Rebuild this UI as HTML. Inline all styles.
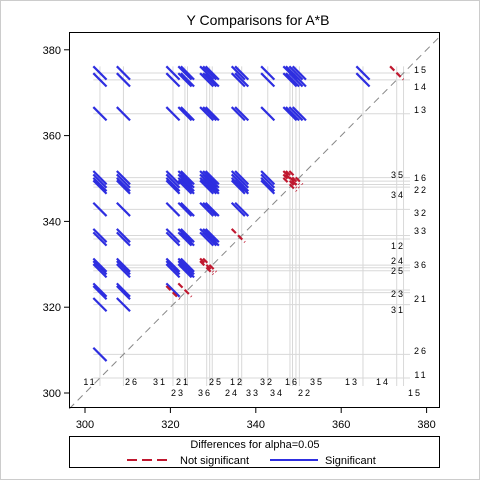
<!DOCTYPE html>
<html><head><meta charset="utf-8"><style>
body{margin:0;background:#fff}
svg{display:block;font-family:"Liberation Sans",sans-serif}
</style></head><body>
<svg id="chart" width="480" height="480" viewBox="0 0 480 480">
<rect x="0.5" y="0.5" width="479" height="479" fill="#fff" stroke="#ccc"/>
<text x="258" y="25" font-size="14" text-anchor="middle">Y Comparisons for A*B</text>
<g id="grid"></g>
<g id="segs"></g>
<g id="labels"></g>
<rect x="69.5" y="32.5" width="370" height="375" fill="none" stroke="#000"/>
<g id="axes"></g>
<g>
<rect x="69.5" y="436.5" width="370" height="31" fill="none" stroke="#000"/>
<text x="255" y="448" font-size="11" text-anchor="middle">Differences for alpha=0.05</text>
<line x1="127" y1="460" x2="170" y2="460" stroke="#c0182f" stroke-width="2" stroke-dasharray="10,5"/>
<text x="180" y="464" font-size="11">Not significant</text>
<line x1="270" y1="460" x2="318" y2="460" stroke="#2e2ee0" stroke-width="2"/>
<text x="325" y="464" font-size="11">Significant</text>
</g>
</svg>
<script>
const levels = ["11","26","31","23","21","36","25","24","12","33","32","34","22","16","35","13","14","15"];
const means = [303.5,309.0,320.6,324.0,323.4,328.5,329.2,329.8,335.9,336.7,342.8,348.0,348.6,349.4,350.2,365.1,373.0,374.6];
const halfWidth = [1.55];
const xTicks = [300,320,340,360,380];
const yTicks = [300,320,340,360,380];
const NS="http://www.w3.org/2000/svg";
const X = v => 85 + (v-300)*4.27;
const Y = v => 393 - (v-300)*4.29;
function mk(tag, attrs, parent){const e=document.createElementNS(NS,tag);for(const k in attrs)e.setAttribute(k,attrs[k]);parent.appendChild(e);return e;}
const grid=document.getElementById('grid'), segs=document.getElementById('segs'), labels=document.getElementById('labels'), axes=document.getElementById('axes');
const d=halfWidth[0];
const mn=Math.min(...means), mx=Math.max(...means);
means.forEach((m,i)=>{
  const v=mk('line',{x1:X(m),x2:X(m),y1:Y(mx+d),y2:386,stroke:'#d8d8d8','stroke-width':1},grid);
  
  
  const h=mk('line',{x1:X(mn-d),x2:410,y1:Y(m),y2:Y(m),stroke:'#d8d8d8','stroke-width':1},grid);
  
  
});
const diag=mk('line',{x1:X(296.3),y1:Y(296.3),x2:X(383.5),y2:Y(383.5),stroke:'#888','stroke-width':1,'stroke-dasharray':'7,5'},grid);


for(let i=0;i<means.length;i++)for(let j=0;j<means.length;j++){
  if(i===j||means[i]>means[j]||(means[i]===means[j]&&i>j))continue;
  const a=means[i],b=means[j];
  const sig=(b-a)>2*d;
  const s=mk('line',{x1:X(a-d),y1:Y(b+d),x2:X(a+d),y2:Y(b-d),stroke:sig?'#2e2ee0':'#c0182f','stroke-width':2.2},segs);
  if(!sig)s.setAttribute('stroke-dasharray','6,3');
  
  
}
const bottomLabels=[["11",90,382],["26",132,382],["31",160,382],["21",183,382],["25",216,382],["12",237,382],["32",267,382],["16",292,382],["35",317,382],["13",352,382],["14",383,382],
["23",178,393],["36",205,393],["24",232,393],["33",253,393],["34",277,393],["22",305,393],["15",415,393]];
const rightLabels=[["35",398,175],["34",398,195],["12",398,246],["24",398,261],["25",398,271],["23",398,294],["31",398,310],
["15",421,70],["14",421,87],["13",421,110],["16",421,178],["22",421,190],["32",421,213],["33",421,231],["36",421,265],["21",421,299],["26",421,351],["11",421,375]];
bottomLabels.concat(rightLabels).forEach(l=>{
  const t=mk('text',{x:l[1],y:l[2]+3,'font-size':9,'text-anchor':'middle','letter-spacing':'2'},labels);
  t.textContent=l[0];
  
  
});
xTicks.forEach(v=>{
  const tk=mk('line',{x1:X(v),x2:X(v),y1:408,y2:413,stroke:'#000'},axes);
  
  
  const t=mk('text',{x:X(v),y:428,'font-size':11,'text-anchor':'middle'},axes);
  t.textContent=v;
  
  
});
yTicks.forEach(v=>{
  const tk=mk('line',{x1:64,x2:69,y1:Y(v),y2:Y(v),stroke:'#000'},axes);
  
  
  const t=mk('text',{x:61,y:Y(v)+4,'font-size':11,'text-anchor':'end'},axes);
  t.textContent=v;
  
  
});
</script>
</body></html>
